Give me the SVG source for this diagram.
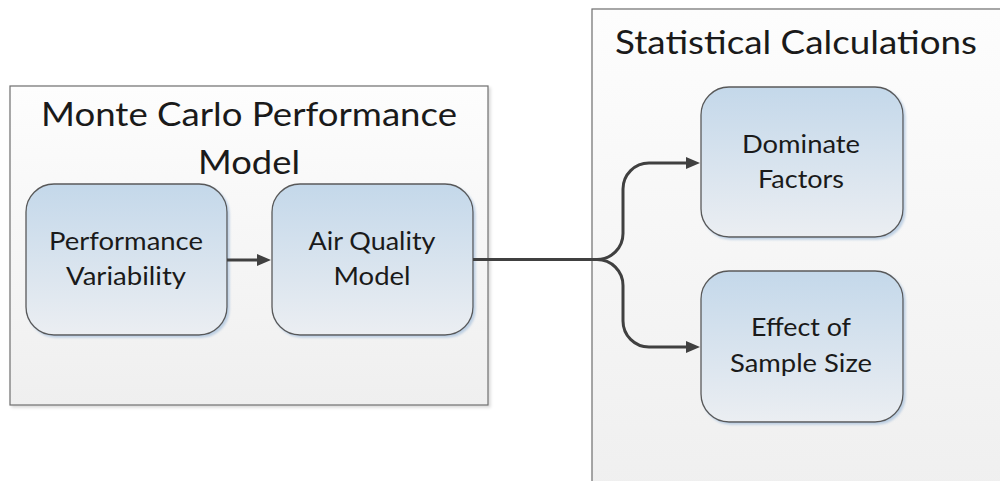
<svg xmlns="http://www.w3.org/2000/svg" width="1000" height="481" viewBox="0 0 1000 481">
<defs>
<linearGradient id="gCont" x1="0" y1="0" x2="0" y2="1">
<stop offset="0" stop-color="#fdfdfd"/>
<stop offset="1" stop-color="#efefef"/>
</linearGradient>
<linearGradient id="gNode" x1="0" y1="0" x2="0" y2="1">
<stop offset="0" stop-color="#c4d8ea"/>
<stop offset="1" stop-color="#ebeef2"/>
</linearGradient>
<filter id="shC" x="-5%" y="-5%" width="110%" height="110%">
<feDropShadow dx="2" dy="2" stdDeviation="1.5" flood-color="#000" flood-opacity="0.15"/>
</filter>
<filter id="shN" x="-10%" y="-10%" width="120%" height="120%">
<feDropShadow dx="2" dy="2" stdDeviation="1.2" flood-color="#9ab8d8" flood-opacity="0.6"/>
</filter>
<marker id="arr" markerUnits="userSpaceOnUse" markerWidth="14" markerHeight="12" refX="4" refY="6" orient="auto">
<path d="M0,0 L14,6 L0,12 z" fill="#404040"/>
</marker>
</defs>
<style>
.cont{fill:url(#gCont);stroke:#6e6e6e;stroke-width:1.2;filter:url(#shC)}
.node{fill:url(#gNode);stroke:#595959;stroke-width:1.3;filter:url(#shN)}
.t{font-family:Lato,"Liberation Sans",sans-serif;fill:#1a1a1a;text-anchor:middle}
.big{font-size:32.5px}
.nt{font-size:25.5px}
.conn{fill:none;stroke:#404040;stroke-width:3}
</style>

<g id="container-monte-carlo">
<rect class="cont" x="10" y="86" width="478" height="319"/>
<text class="t big" x="249" y="125.5" textLength="416" lengthAdjust="spacingAndGlyphs">Monte Carlo Performance</text>
<text class="t big" x="249" y="173.5" textLength="102" lengthAdjust="spacingAndGlyphs">Model</text>
</g>

<g id="container-statistical">
<rect class="cont" x="592" y="9" width="420" height="490"/>
<text class="t big" x="796" y="53.5" textLength="362" lengthAdjust="spacingAndGlyphs">Statistical Calculations</text>
</g>

<g id="node-performance-variability">
<rect class="node" x="26" y="184" width="201" height="151" rx="28" ry="28"/>
<text class="t nt" x="126" y="250" textLength="154" lengthAdjust="spacingAndGlyphs">Performance</text>
<text class="t nt" x="126" y="285" textLength="120" lengthAdjust="spacingAndGlyphs">Variability</text>
</g>

<g id="node-air-quality">
<rect class="node" x="272" y="184" width="201" height="151" rx="28" ry="28"/>
<text class="t nt" x="372" y="250" textLength="127" lengthAdjust="spacingAndGlyphs">Air Quality</text>
<text class="t nt" x="372" y="285" textLength="77" lengthAdjust="spacingAndGlyphs">Model</text>
</g>

<g id="node-dominate-factors">
<rect class="node" x="701" y="87" width="202" height="150" rx="28" ry="28"/>
<text class="t nt" x="801" y="152.5" textLength="118" lengthAdjust="spacingAndGlyphs">Dominate</text>
<text class="t nt" x="801" y="188" textLength="86" lengthAdjust="spacingAndGlyphs">Factors</text>
</g>

<g id="node-effect-sample-size">
<rect class="node" x="701" y="271" width="202" height="151" rx="28" ry="28"/>
<text class="t nt" x="801" y="336" textLength="100" lengthAdjust="spacingAndGlyphs">Effect of</text>
<text class="t nt" x="801" y="371.5" textLength="142" lengthAdjust="spacingAndGlyphs">Sample Size</text>
</g>

<g id="connectors">
<path class="conn" d="M227,260 H261" marker-end="url(#arr)"/>
<path class="conn" d="M473,259.5 H597 A26,26 0 0 0 623,233.5 V189 A26,26 0 0 1 649,163 H690" marker-end="url(#arr)"/>
<path class="conn" d="M597,259.5 A26,26 0 0 1 623,285.5 V321 A26,26 0 0 0 649,347 H690" marker-end="url(#arr)"/>
</g>
</svg>
